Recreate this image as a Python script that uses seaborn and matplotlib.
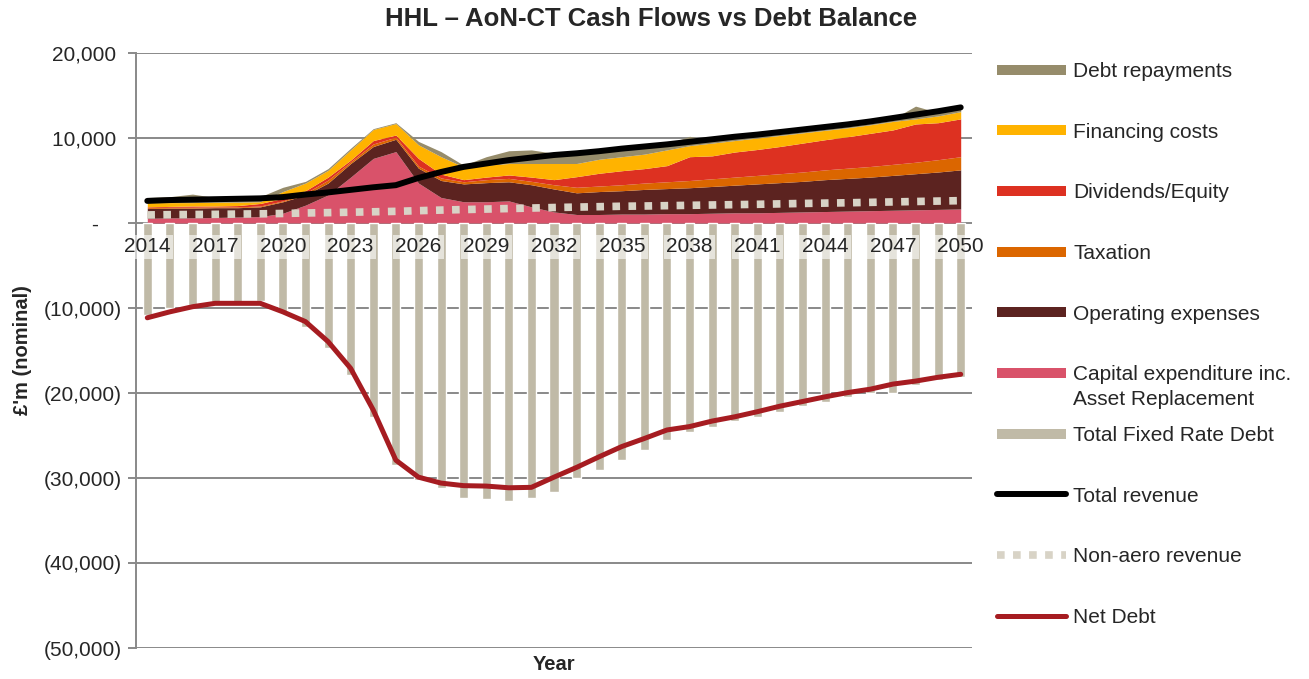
import matplotlib
matplotlib.use('Agg')
import matplotlib.pyplot as plt
import numpy as np
import pandas as pd
import seaborn as sns
from matplotlib.lines import Line2D
from matplotlib.ticker import FuncFormatter

# Data (GBP m, nominal)
years = list(range(2014, 2051))

capex = [550, 600, 600, 650, 700, 750, 1150, 2100, 3300, 5400, 7600, 8400, 4700, 3000, 2500, 2500,
         2600, 1900, 1300, 1000, 1000, 1050, 1050, 1100, 1100, 1150, 1200, 1200, 1250, 1300, 1350,
         1400, 1450, 1500, 1550, 1600, 1650]
opex = [1150, 1150, 1150, 1150, 1100, 1150, 1350, 1200, 1400, 1600, 1400, 1450, 1750, 2000, 2100, 2250,
        2250, 2600, 2700, 2550, 2700, 2750, 2900, 2950, 3050, 3150, 3250, 3400, 3500, 3600, 3750,
        3850, 3950, 4100, 4250, 4400, 4600]
taxation = [100, 100, 100, 100, 100, 100, 100, 200, 350, 200, 300, 250, 250, 300, 250, 350,
            400, 400, 500, 650, 650, 700, 750, 800, 850, 900, 950, 1000, 1050, 1100, 1150,
            1200, 1250, 1300, 1350, 1450, 1550]
dividends = [100, 100, 150, 100, 150, 300, 300, 300, 350, 200, 400, 250, 900, 450, 250, 300,
             400, 500, 600, 1250, 1500, 1650, 1700, 1900, 2800, 2700, 2950, 3050, 3200, 3400, 3550,
             3700, 3900, 4050, 4500, 4350, 4450]
financing = [500, 450, 400, 450, 400, 200, 800, 900, 800, 1200, 1300, 1350, 1600, 2050, 1500, 1400,
             1350, 1600, 1900, 1550, 1650, 1650, 1700, 1850, 1300, 1500, 1350, 1350, 1300, 1200, 1100,
             1050, 1000, 1000, 600, 800, 850]
debt_repay = [600, 700, 1000, 550, 650, 600, 500, 200, 200, 200, 100, 100, 400, 600, 200, 1000,
              1500, 1600, 1200, 1200, 1000, 1000, 900, 700, 1100, 300, 300, 300, 300, 300, 300,
              300, 300, 300, 1500, 400, 300]
total_revenue = [2600, 2700, 2750, 2800, 2850, 2900, 3050, 3350, 3600, 3900, 4200, 4450, 5300, 6000, 6600, 7000,
                 7400, 7700, 8000, 8200, 8450, 8750, 9000, 9250, 9550, 9850, 10150, 10400, 10700, 11000, 11300,
                 11600, 11950, 12350, 12750, 13150, 13600]
non_aero = [950, 980, 1000, 1020, 1050, 1080, 1120, 1180, 1220, 1270, 1320, 1370, 1450, 1520, 1580, 1640,
            1700, 1760, 1820, 1870, 1920, 1970, 2000, 2040, 2080, 2120, 2160, 2200, 2250, 2300, 2340,
            2380, 2430, 2480, 2530, 2580, 2630]
fixed_debt = [-10800, -10000, -9650, -9250, -9250, -9150, -10450, -12200, -14750, -17900, -22800, -28500,
              -30200, -31200, -32400, -32500, -32700, -32400, -31600, -30000, -29000, -27900, -26700, -25500,
              -24550, -23950, -23250, -22800, -22200, -21550, -21000, -20450, -20050, -19950, -19050, -18450, -18100]
net_debt = [-11150, -10450, -9850, -9450, -9450, -9450, -10450, -11600, -13950, -17100, -22000, -27900,
            -29900, -30600, -30900, -30950, -31150, -31100, -29900, -28750, -27500, -26300, -25350, -24350,
            -23950, -23300, -22800, -22200, -21550, -21000, -20450, -19950, -19550, -18950, -18600, -18150, -17800]

area_labels = ['Capital expenditure inc.', 'Operating expenses', 'Taxation',
               'Dividends/Equity', 'Financing costs', 'Debt repayments']
area_colors = ['#D9526A', '#5C2320', '#DB6600', '#DD3121', '#FFB300', '#968C6B']
c_fixed = '#C0BAA7'
c_nonaero = '#D8D3C6'
c_netdebt = '#A61C21'
grid_c = '#898989'

df = pd.DataFrame({'year': years, 'fixed': fixed_debt, 'revenue': total_revenue,
                   'non_aero': non_aero, 'net_debt': net_debt})
df['pos'] = np.arange(len(df))

sns.set_style('white')
plt.rcParams['font.family'] = ['Liberation Sans', 'DejaVu Sans']

fig = plt.figure(figsize=(13.09, 6.79), dpi=100)
ax = fig.add_axes([136 / 1309, 1 - 648 / 679, (972 - 136) / 1309, (648 - 53) / 679])

# stacked cash-flow areas
ax.stackplot(df['pos'], capex, opex, taxation, dividends, financing, debt_repay,
             colors=area_colors, lw=0, zorder=2)

# fixed rate debt bars
sns.barplot(data=df, x='year', y='fixed', color=c_fixed, width=0.4, saturation=1,
            ax=ax, zorder=2)

# lines
sns.lineplot(data=df, x='pos', y='revenue', color='black', lw=4.3, ax=ax, zorder=4)
sns.lineplot(data=df, x='pos', y='non_aero', color=c_nonaero, lw=5.5, ax=ax, zorder=4)
ax.lines[-1].set_linestyle((0, (1, 1.1)))
ax.lines[-1].set_dash_capstyle('butt')
sns.lineplot(data=df, x='pos', y='net_debt', color=c_netdebt, lw=3.6, ax=ax, zorder=4)

ax.set_xlim(-0.5, len(years) - 0.5)
ax.set_ylim(-50000, 20000)
ax.set_yticks(range(-50000, 20001, 10000))


def fmt(v, _):
    if v == 0:
        return '-    '
    if v < 0:
        return '({:,.0f})'.format(-v)
    return '{:,.0f} '.format(v)


ax.yaxis.set_major_formatter(FuncFormatter(fmt))
ax.yaxis.grid(True, color=grid_c, lw=1.4)
ax.set_axisbelow(True)
for s in ['top', 'right', 'bottom']:
    ax.spines[s].set_visible(False)
ax.spines['left'].set_color(grid_c)
ax.spines['left'].set_linewidth(1.4)
ax.tick_params(axis='y', left=True, length=6, width=1.4, color=grid_c, labelsize=15, pad=4)

# year labels sitting on the zero axis
ax.set_xticks([])
for i in range(0, len(years), 3):
    ax.text(i, -2820, str(years[i]), ha='center', va='center', fontsize=15, zorder=6,
            bbox=dict(boxstyle='square,pad=0.12', fc='white', ec='none', alpha=0.6))

ax.set_ylabel("£'m (nominal)", fontsize=14.5, fontweight='bold')
ax.yaxis.set_label_coords(-0.124, 0.5)
ax.set_xlabel('Year', fontsize=14.5, fontweight='bold')
ax.xaxis.set_label_coords(0.5, -0.012)

fig.text(0.497, 1 - 19 / 679, 'HHL – AoN-CT Cash Flows vs Debt Balance',
         ha='center', va='center', fontsize=18.5, fontweight='bold')

# legend
handles = [Line2D([], [], color=c, lw=7.2, solid_capstyle='butt') for c in area_colors[::-1]]
labels = area_labels[::-1]
handles += [Line2D([], [], color=c_fixed, lw=7.2, solid_capstyle='butt'),
            Line2D([], [], color='black', lw=4.3),
            Line2D([], [], color=c_nonaero, lw=5.5, ls=(0, (1, 1.1)), dash_capstyle='butt'),
            Line2D([], [], color=c_netdebt, lw=3.6)]
labels += ['Total Fixed Rate Debt', 'Total revenue', 'Non-aero revenue', 'Net Debt']
leg = fig.legend(handles, labels, loc='upper left', bbox_to_anchor=(997 / 1309, 1 - 62 / 679),
                 frameon=False, fontsize=15, handlelength=3.3, handletextpad=0.35,
                 labelspacing=2.0, borderpad=0, borderaxespad=0)

fig.canvas.draw()
bb = leg.get_texts()[5].get_window_extent()
fig.text(bb.x0 / fig.bbox.width, (bb.y0 - 25) / fig.bbox.height, 'Asset Replacement',
         fontsize=15, ha='left', va='bottom')

fig.savefig('out.png', dpi=100)
